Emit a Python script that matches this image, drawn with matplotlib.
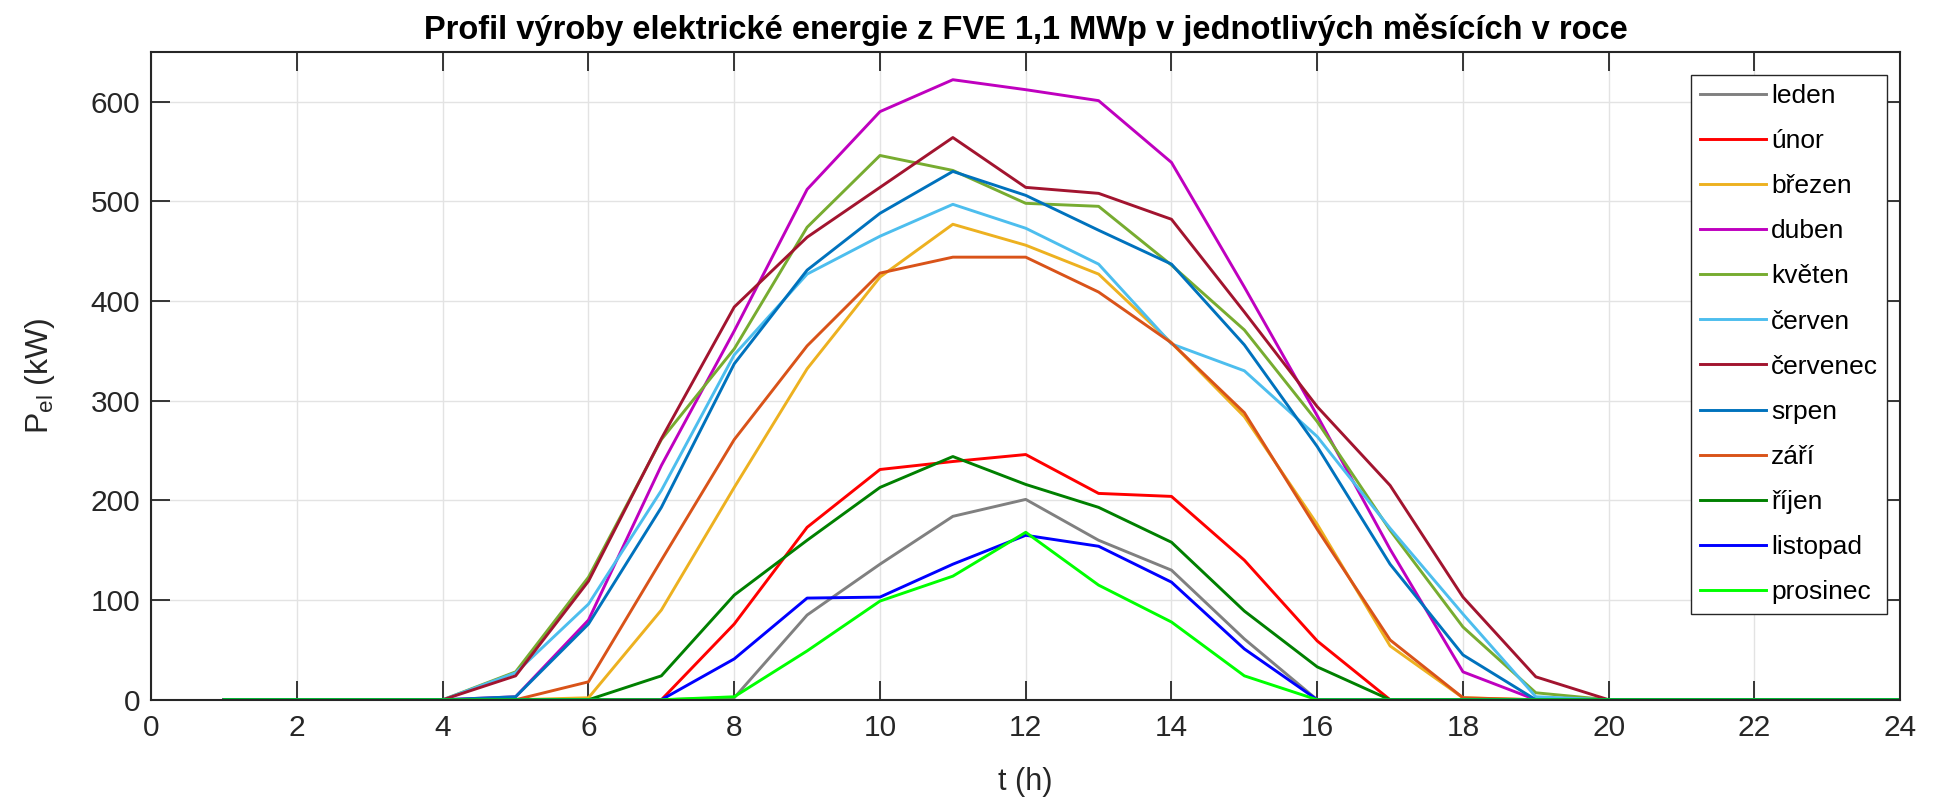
import numpy as np
import matplotlib
matplotlib.use('Agg')
import matplotlib.pyplot as plt

plt.rcParams['font.family'] = ['Liberation Sans', 'DejaVu Sans']

# hodiny dne
hours = np.arange(1, 25)

# vykon FVE (kW) v jednotlivych hodinach
leden     = [0, 0, 0, 0, 0, 0, 0, 2, 85, 136, 184, 201, 160, 130, 61, 0, 0, 0, 0, 0, 0, 0, 0, 0]
unor      = [0, 0, 0, 0, 0, 0, 0, 76, 173, 231, 239, 246, 207, 204, 140, 59, 0, 0, 0, 0, 0, 0, 0, 0]
brezen    = [0, 0, 0, 0, 0, 2, 90, 213, 332, 424, 477, 456, 427, 358, 284, 176, 54, 2, 0, 0, 0, 0, 0, 0]
duben     = [0, 0, 0, 0, 3, 80, 235, 370, 512, 590, 622, 612, 601, 539, 414, 285, 151, 28, 0, 0, 0, 0, 0, 0]
kveten    = [0, 0, 0, 0, 28, 123, 261, 352, 474, 546, 531, 498, 495, 436, 371, 279, 170, 73, 7, 0, 0, 0, 0, 0]
cerven    = [0, 0, 0, 0, 27, 96, 210, 346, 427, 465, 497, 473, 437, 357, 330, 264, 172, 86, 3, 0, 0, 0, 0, 0]
cervenec  = [0, 0, 0, 0, 24, 119, 262, 394, 464, 514, 564, 514, 508, 482, 389, 294, 215, 103, 23, 0, 0, 0, 0, 0]
srpen     = [0, 0, 0, 0, 3, 76, 193, 337, 431, 488, 530, 506, 471, 437, 356, 254, 136, 45, 0, 0, 0, 0, 0, 0]
zari      = [0, 0, 0, 0, 0, 18, 140, 261, 355, 428, 444, 444, 409, 358, 288, 171, 60, 2, 0, 0, 0, 0, 0, 0]
rijen     = [0, 0, 0, 0, 0, 0, 24, 105, 160, 213, 244, 216, 193, 158, 89, 33, 0, 0, 0, 0, 0, 0, 0, 0]
listopad  = [0, 0, 0, 0, 0, 0, 0, 41, 102, 103, 136, 165, 154, 118, 51, 0, 0, 0, 0, 0, 0, 0, 0, 0]
prosinec  = [0, 0, 0, 0, 0, 0, 0, 3, 49, 99, 124, 168, 115, 78, 24, 0, 0, 0, 0, 0, 0, 0, 0, 0]

months = ['leden', 'únor', 'březen', 'duben', 'květen', 'červen',
          'červenec', 'srpen', 'září', 'říjen', 'listopad', 'prosinec']
series = [leden, unor, brezen, duben, kveten, cerven,
          cervenec, srpen, zari, rijen, listopad, prosinec]
colors = ['#808080', '#ff0000', '#edb120', '#bf00bf', '#77ac30', '#4dbeee',
          '#a2142f', '#0072bd', '#d95319', '#008000', '#0000ff', '#00ff00']

fig = plt.figure(figsize=(19.39, 7.97), dpi=100)
ax = fig.add_axes([0.078, 0.122, 0.902, 0.813])

for vals, name, c in zip(series, months, colors):
    ax.plot(hours, vals, color=c, linewidth=2.1, label=name)

ax.set_xlim(0, 24)
ax.set_ylim(0, 650)
ax.set_xticks(np.arange(0, 25, 2))
ax.set_yticks(np.arange(0, 601, 100))
ax.grid(True, color='#e3e3e3', linewidth=1.0)
ax.set_axisbelow(True)

ax.tick_params(direction='in', length=14, width=1.3, colors='#262626',
               labelsize=21.5, top=True, right=True)
ax.tick_params(axis='x', pad=10)
ax.tick_params(axis='y', pad=8)
for s in ax.spines.values():
    s.set_color('#262626')
    s.set_linewidth(1.5)

ax.set_xlabel('t (h)', fontsize=22, color='#262626', labelpad=18)
ax.set_ylabel(r'P$_\mathregular{el}$ (kW)', fontsize=23, color='#262626', labelpad=24)
ax.set_title('Profil výroby elektrické energie z FVE 1,1 MWp v jednotlivých měsících v roce',
             fontsize=23.5, fontweight='bold', pad=9)

leg = ax.legend(loc='upper right', bbox_to_anchor=(0.9926, 0.9645), fontsize=19,
                labelspacing=0.8, handlelength=2.5, handletextpad=0.2, borderpad=0.35,
                fancybox=False, framealpha=1, borderaxespad=0)
leg.get_frame().set_edgecolor('#262626')
leg.get_frame().set_linewidth(1.0)

fig.savefig('out.png', dpi=100)
